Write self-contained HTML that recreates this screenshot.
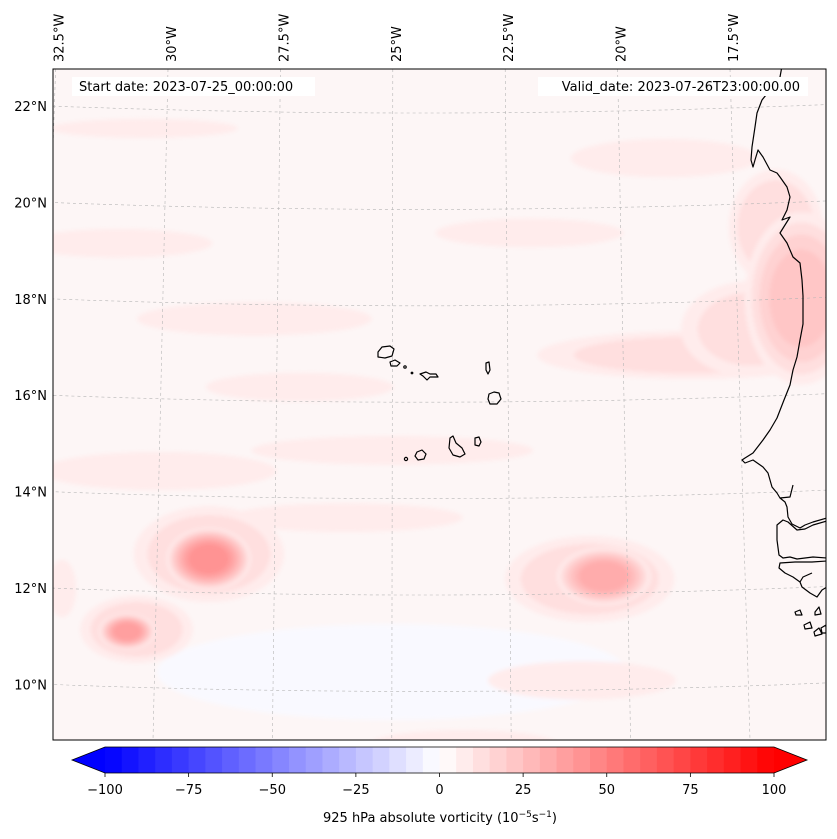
<!DOCTYPE html>
<html><head><meta charset="utf-8"><style>
html,body{margin:0;padding:0;background:#fff;}
svg{display:block;font-family:"DejaVu Sans","Liberation Sans",sans-serif;}
</style></head><body>
<svg id="chart" width="837" height="839" viewBox="0 0 837 839" xmlns="http://www.w3.org/2000/svg">
<defs>
<clipPath id="mapclip"><rect x="53" y="69" width="773" height="671"/></clipPath>
<filter id="soft" x="-10%" y="-10%" width="120%" height="120%"><feGaussianBlur stdDeviation="2"/></filter>
</defs>
<g id="field" clip-path="url(#mapclip)">
<rect x="53" y="69" width="773" height="671" fill="#fdf6f6"/>
<g id="blobs" filter="url(#soft)"></g>
</g>
<g id="grid" clip-path="url(#mapclip)"></g>
<g id="coast" clip-path="url(#mapclip)" fill="none" stroke="#000" stroke-width="1.2" stroke-linejoin="round">
<path d="M782,66 L780,77 L770,90 L762,100 L757,113 L755,127 L752,147 L751,160 L753,167 L755,160 L758,150 L763,157 L770,170 L777,173 L780,177 L787,187 L790,197 L787,210 L782,220 L790,217 L780,233 L787,243 L793,257 L800,263 L802,280 L803,296 L803,310 L803,324 L800,340 L797,357 L793,370 L790,385 L784,400 L777,418 L770,430 L763,440 L753,453 L745,458 L742,460 L745,463 L753,460 L763,467 L768,473 L772,487 L777,493 L780,498 L785,502 L787,507 L788,517 L792,524 L800,528 L805,525 L813,522 L827,518"/>
<path d="M780,498 L790,497 L793,485"/>
<path d="M827,521 L813,525 L805,529 L797,530 L788,522 L783,520 L777,525 L777,540 L779,555 L783,558 L790,557 L797,559 L813,557 L827,558"/>
<path d="M827,561 L812,562 L795,562 L780,563 L779,568 L785,573 L793,577 L800,582 L803,577 L812,573 M800,582 L802,587 L810,593 L817,597 L822,590 L827,587"/>
<path d="M795,612 L800,610 L802,615 L796,615 Z M815,612 L819,607 L821,614 L815,615 Z M804,625 L810,622 L812,628 L805,629 Z M814,632 L819,628 L822,634 L815,636 Z M821,628 L826,625 L826,633 L822,633 Z"/>
<path d="M378,352 L382,347 L390,346 L394,349 L392,356 L385,358 L378,357 Z"/>
<path d="M390,362 L395,360 L400,363 L397,366 L391,366 Z"/>
<circle cx="405" cy="367" r="1.2"/>
<circle cx="412" cy="373" r="0.8"/>
<path d="M420,374 L426,372 L430,374 L436,374 L438,377 L430,377 L427,380 L423,376 Z"/>
<path d="M486,363 L489,362 L490,370 L488,374 L486,370 Z"/>
<path d="M489,394 L494,392 L499,393 L501,399 L497,404 L490,404 L488,399 Z"/>
<path d="M450,438 L453,436 L456,443 L462,448 L465,454 L460,457 L453,455 L449,448 Z"/>
<path d="M475,438 L479,437 L481,442 L479,446 L475,445 Z"/>
<path d="M417,452 L422,450 L426,454 L424,459 L418,460 L415,456 Z"/>
<circle cx="406" cy="459" r="1.6"/>
</g>
<rect x="53" y="69" width="773" height="671" fill="none" stroke="#000" stroke-width="1"/>
<rect x="72" y="77" width="243" height="19" fill="#fff"/>
<text x="79" y="91" font-size="13" fill="#000">Start date: 2023-07-25_00:00:00</text>
<rect x="538" y="77" width="270" height="19" fill="#fff"/>
<text x="800" y="91" font-size="13" fill="#000" text-anchor="end">Valid_date: 2023-07-26T23:00:00.00</text>
<g id="lonlabels" font-size="13"></g>
<g id="latlabels" font-size="13"></g>
<g id="colorbar"></g>
<text x="440" y="822" font-size="13" text-anchor="middle">925 hPa absolute vorticity (10<tspan dy="-5" font-size="9">−5</tspan><tspan dy="5">s</tspan><tspan dy="-5" font-size="9">−1</tspan><tspan dy="5">)</tspan></text>
</svg>
<script>
const levels=[-100,-95,-90,-85,-80,-75,-70,-65,-60,-55,-50,-45,-40,-35,-30,-25,-20,-15,-10,-5,0,5,10,15,20,25,30,35,40,45,50,55,60,65,70,75,80,85,90,95,100];
const cbTicks=[-100,-75,-50,-25,0,25,50,75,100];
const lonTicks=[-32.5,-30,-27.5,-25,-22.5,-20,-17.5];
const latTicks=[10,12,14,16,18,20,22];
// vorticity features: centre lon/lat, peak value, radius in degrees
const featLon=[-25,-25.8,-24.1,-21.4,-31,-28,-30,-25,-26,-21,-30.5,-19,-22,-27,-32,-23.5,-28.9,-30.4,-20.8,-16.6,-18.5,-17.2,-16.1,-28.9,-30.6,-20.5];
const featLat=[10.4,9.9,10.2,10.5,19.2,17.7,14.5,15.0,13.6,10.2,21.6,21.0,19.5,16.3,12.0,8.9,12.8,11.2,12.3,19.5,16.9,17.4,18.0,12.7,11.15,12.35];
const featVal=[-3,-6,-5,-5,8,8,8,8,8,8,8,8,8,8,8,8,15,15,15,15,12,12,22,45,40,35];
const featRLon=[5,0.2,0.25,0.15,2,2.5,2.5,3,2.5,2,2,2,2,2,0.3,2,1.6,1.2,1.8,1.0,3.3,1.5,1.2,0.9,0.6,1.0];
const featRLat=[1.0,0.5,0.3,0.2,0.3,0.35,0.4,0.3,0.3,0.4,0.2,0.4,0.3,0.3,0.6,0.3,1.0,0.7,0.9,1.2,0.5,1.0,1.8,0.65,0.38,0.6];

const NS='http://www.w3.org/2000/svg';
function mk(tag,attrs,parent){const e=document.createElementNS(NS,tag);for(const k in attrs)e.setAttribute(k,attrs[k]);parent.appendChild(e);return e;}
function bwr(v){let t=(v+100)/200;t=Math.max(0,Math.min(1,t));let r,g,b;if(t<0.5){r=2*t;g=2*t;b=1;}else{r=1;g=2*(1-t);b=2*(1-t);}
 return 'rgb('+Math.round(r*255)+','+Math.round(g*255)+','+Math.round(b*255)+')';}
function xAt(lon,y){const t=(y-69)/671;const xt=168+(lon+30)*44.96;const xb=153+(lon+30)*47.76;return xt+(xb-xt)*t;}
function sag(x){const u=(x-420)/370;return 7*(1-u*u);}
function proj(lon,lat){const y0=106+(22-lat)*48.2;let y=y0,x=0;for(let i=0;i<4;i++){x=xAt(lon,y);y=y0+sag(x);}return [x,y];}

// field
const blobs=document.getElementById('blobs');
for(let i=0;i<featVal.length;i++){
 const v=featVal[i];const [cx,cy]=proj(featLon[i],featLat[i]);
 const rx=featRLon[i]*47,ry=featRLat[i]*48;
 if(v>0){
  for(const L of levels){ if(L<5||L>=v) continue;
   const s=Math.sqrt(1-(L-5)/v);
   const e=mk('ellipse',{cx:cx,cy:cy,rx:rx*s,ry:ry*s,fill:bwr(L+2.5)},blobs);
   
   
  }
 } else {
  for(const L of levels){ if(L>0||L<=v) continue;
   const s=Math.sqrt(1-(-L)/(-v));
   const e=mk('ellipse',{cx:cx,cy:cy,rx:rx*s,ry:ry*s,fill:bwr(L-2.5)},blobs);
   
   
  }
 }
}

// gridlines
const grid=document.getElementById('grid');
for(const lat of latTicks.concat([8,24])){
 let pts=[];for(let lon=-34;lon<=-14;lon+=0.25){const p=proj(lon,lat);pts.push(p[0].toFixed(1)+','+p[1].toFixed(1));}
 const e=mk('polyline',{points:pts.join(' '),fill:'none',stroke:'#b5b5b5','stroke-width':0.6,'stroke-dasharray':'3,3'},grid);
 
 
}
for(const lon of lonTicks){
 const e=mk('line',{x1:xAt(lon,69),y1:69,x2:xAt(lon,740),y2:740,stroke:'#b5b5b5','stroke-width':0.6,'stroke-dasharray':'3,3'},grid);
 
 
}
// lon labels
const lonL=document.getElementById('lonlabels');
for(const lon of lonTicks){
 const x=xAt(lon,69)+8;
 const t=mk('text',{x:0,y:0,transform:'translate('+x.toFixed(1)+',62) rotate(-90)'},lonL);
 t.textContent=(-lon)+'°W';
 
 
}
const latL=document.getElementById('latlabels');
for(const lat of latTicks){
 const y=106+(22-lat)*48.2;
 const t=mk('text',{x:47,y:(y+5).toFixed(1),'text-anchor':'end'},latL);
 t.textContent=lat+'°N';
 
 
}
// colorbar
const cb=document.getElementById('colorbar');
function cbx(v){return 105+(v+100)/200*669;}
for(let i=0;i<levels.length-1;i++){
 const a=levels[i],b=levels[i+1];
 const r=mk('rect',{x:cbx(a),y:747,width:cbx(b)-cbx(a)+0.5,height:26,fill:bwr((a+b)/2)},cb);
 
 
}
const lt=mk('polygon',{points:'105,747 72,760 105,773',fill:bwr(-100)},cb);


const rt=mk('polygon',{points:'774,747 807,760 774,773',fill:bwr(100)},cb);


const ol=mk('polygon',{points:'105,747 774,747 807,760 774,773 105,773 72,760',fill:'none',stroke:'#000','stroke-width':0.8},cb);


for(const v of cbTicks){
 const x=cbx(v);
 const tk=mk('line',{x1:x,y1:773,x2:x,y2:777,stroke:'#000','stroke-width':0.8},cb);
 
 
 const t=mk('text',{x:x,y:794,'text-anchor':'middle','font-size':13},cb);
 t.textContent=(v<0?'−'+(-v):String(v));
 
 
}
</script>
</body></html>
